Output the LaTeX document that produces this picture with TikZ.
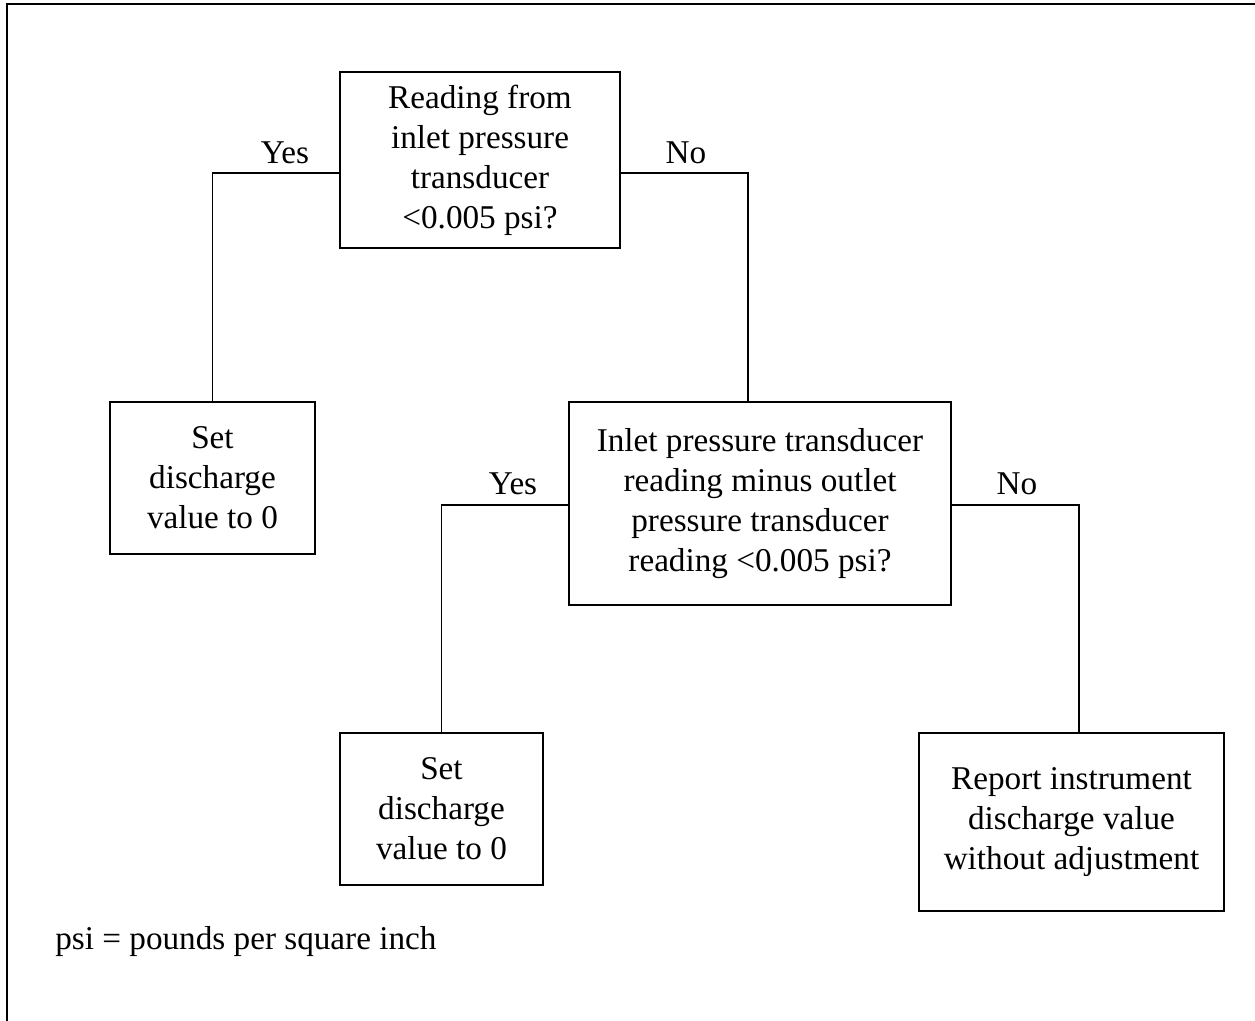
\documentclass[tikz,border=0pt]{standalone}
\usepackage{fontspec}
\setmainfont{Liberation Serif}
\usetikzlibrary{positioning}

\tikzset{
    box/.style={draw, line width=0.8pt, align=center, inner sep=0pt,
        font=\fontsize{18.9}{22.8}\selectfont},
    lbl/.style={font=\fontsize{18.9}{22.8}\selectfont},
    wire/.style={line width=0.8pt}
}

\begin{document}
\begin{tikzpicture}[x=0.02cm, y=-0.02cm]
    \useasboundingbox (0,0) rectangle (1255,1021);
    \draw[line width=1.1pt] (1255,4) -- (7,4) -- (7,1021);

    \node[box, minimum width=5.6cm, minimum height=3.52cm] (q1) at (480,160)
        {Reading from\\inlet pressure\\transducer\\<0.005 psi?};
    \node[box, minimum width=4.1cm, minimum height=3.04cm] (set1) at (212.5,478)
        {Set\\discharge\\value to 0};
    \node[box, minimum width=7.64cm, minimum height=4.06cm] (q2) at (760,503.5)
        {Inlet pressure transducer\\reading minus outlet\\pressure transducer\\reading <0.005 psi?};
    \node[box, minimum width=4.06cm, minimum height=3.04cm] (set2) at (441.5,809)
        {Set\\discharge\\value to 0};
    \node[box, minimum width=6.1cm, minimum height=3.56cm] (report) at (1071.5,822)
        {Report instrument\\discharge value\\without adjustment};

    \draw[wire] (q1.west |- 0,173) -| (set1.north);
    \draw[wire] (q1.east |- 0,173) -| (q2.north -| 748,0);
    \draw[wire] (q2.west |- 0,505) -| (set2.north);
    \draw[wire] (q2.east |- 0,505) -| (report.north -| 1079,0);

    \node[lbl] (yes1) at (285,153) {Yes};
    \node[lbl] (no1) at (686,153) {No};
    \node[lbl] (yes2) at (513,484) {Yes};
    \node[lbl] (no2) at (1017,484) {No};

    \node[lbl, anchor=west, inner sep=0pt] (note) at (55,942) {psi = pounds per square inch};
\end{tikzpicture}
\end{document}
